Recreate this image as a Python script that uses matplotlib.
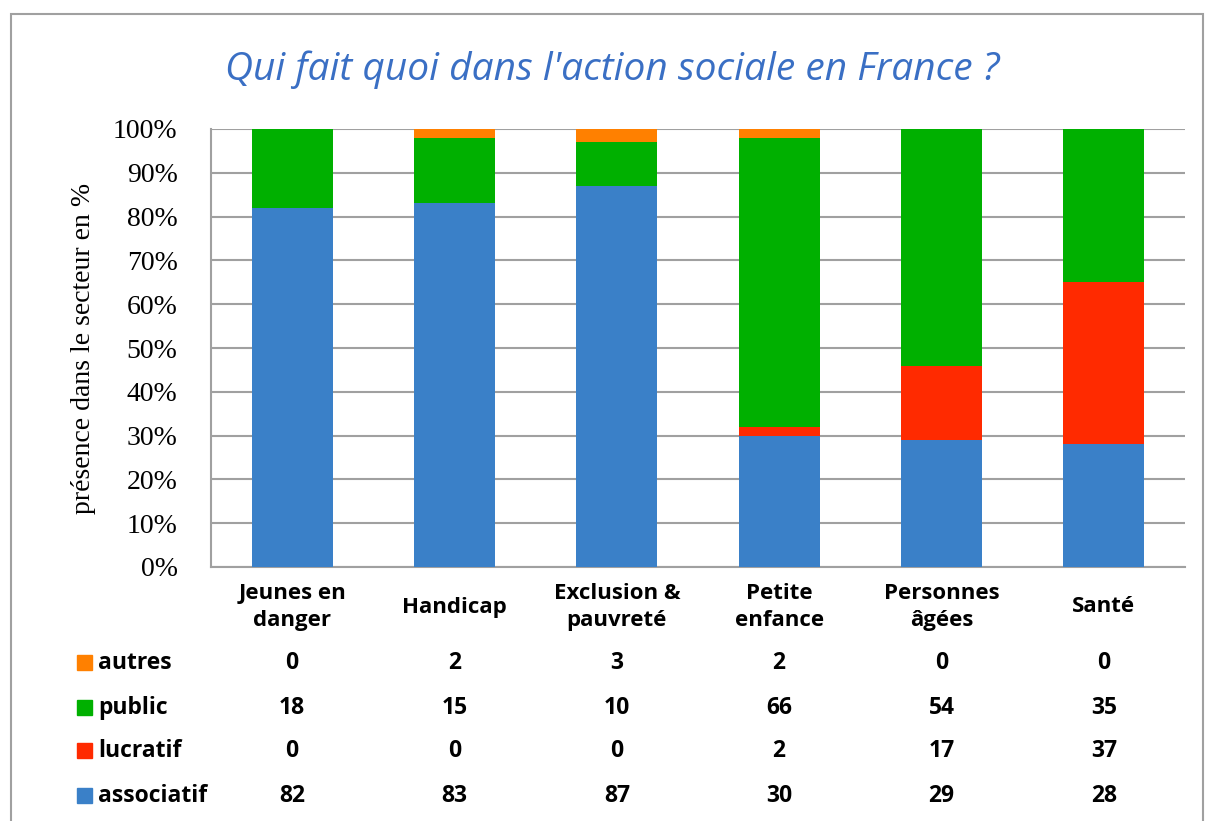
import matplotlib
matplotlib.use("Agg")
import matplotlib.pyplot as plt
from matplotlib.patches import Rectangle
from matplotlib.transforms import blended_transform_factory
import numpy as np

categories = ["Jeunes en\ndanger", "Handicap", "Exclusion &\npauvreté", "Petite\nenfance",
              "Personnes\nâgées", "Santé"]
associatif = [82, 83, 87, 30, 29, 28]
lucratif = [0, 0, 0, 2, 17, 37]
public = [18, 15, 10, 66, 54, 35]
autres = [0, 2, 3, 2, 0, 0]

series = [("associatif", associatif, "#3A80C8"),
          ("lucratif", lucratif, "#FF2A00"),
          ("public", public, "#00B000"),
          ("autres", autres, "#FF8000")]

W, H = 1206, 821
fig = plt.figure(figsize=(W / 100, H / 100), dpi=100)

# outer frame
fig.patches.append(Rectangle((11 / W, -0.1), (1203 - 11) / W, 1 - 14 / H + 0.1,
                             transform=fig.transFigure, fill=False,
                             edgecolor="#A0A0A0", linewidth=1.5))

ax = fig.add_axes([211 / W, 1 - 567 / H, (1185 - 211) / W, (567 - 129) / H])

x = np.arange(len(categories))
bottom = np.zeros(len(categories))
for name, vals, col in series:
    v = np.array(vals, dtype=float)
    ax.bar(x, v, 0.5, bottom=bottom, color=col, edgecolor="none", zorder=3)
    bottom += v

ax.set_xlim(-0.5, len(categories) - 0.5)
ax.set_ylim(0, 100)
ax.set_yticks(np.arange(0, 101, 10))
ax.set_yticklabels([f"{t}%" for t in range(0, 101, 10)],
                   fontfamily="Liberation Serif", fontsize=20)
ax.set_xticks(x)
ax.set_xticklabels([])
ax.tick_params(axis="x", length=0)
ax.tick_params(axis="y", length=0, pad=24)
ax.yaxis.grid(True, color="#A0A0A0", linewidth=1.5, zorder=0)
for s in ["top", "right"]:
    ax.spines[s].set_visible(False)
for s in ["left", "bottom"]:
    ax.spines[s].set_color("#A0A0A0")
    ax.spines[s].set_linewidth(1.5)

ax.set_ylabel("présence dans le secteur en %", fontfamily="Liberation Serif",
              fontsize=20, labelpad=12)

fig.text(612 / W, 1 - 70 / H, "Qui fait quoi dans l'action sociale en France ?",
         ha="center", va="center", fontfamily="Open Sans", style="italic",
         fontsize=28, color="#3A6FC4")

tr = blended_transform_factory(ax.transData, fig.transFigure)

# category labels, centred vertically like the table cells
for i, c in enumerate(categories):
    ax.text(i, 1 - 607 / H, c, transform=tr, ha="center", va="center",
            fontfamily="Open Sans", fontweight="bold", fontsize=16,
            linespacing=1.35)

# data table below the chart
rows = [("autres", autres, "#FF8000", 663),
        ("public", public, "#00B000", 708),
        ("lucratif", lucratif, "#FF2A00", 751),
        ("associatif", associatif, "#3A80C8", 796)]
for name, vals, col, ypx in rows:
    yf = 1 - ypx / H
    fig.patches.append(Rectangle((77 / W, yf - 7 / H), 15 / W, 15 / H,
                                 transform=fig.transFigure, color=col))
    fig.text(98 / W, yf, name, ha="left", va="center", fontfamily="Open Sans",
             fontweight="bold", fontsize=16.5)
    for i, v in enumerate(vals):
        ax.text(i, yf, str(v), transform=tr, ha="center", va="center",
                fontfamily="Open Sans", fontweight="bold", fontsize=16.5)

fig.savefig("out.png", dpi=100)
